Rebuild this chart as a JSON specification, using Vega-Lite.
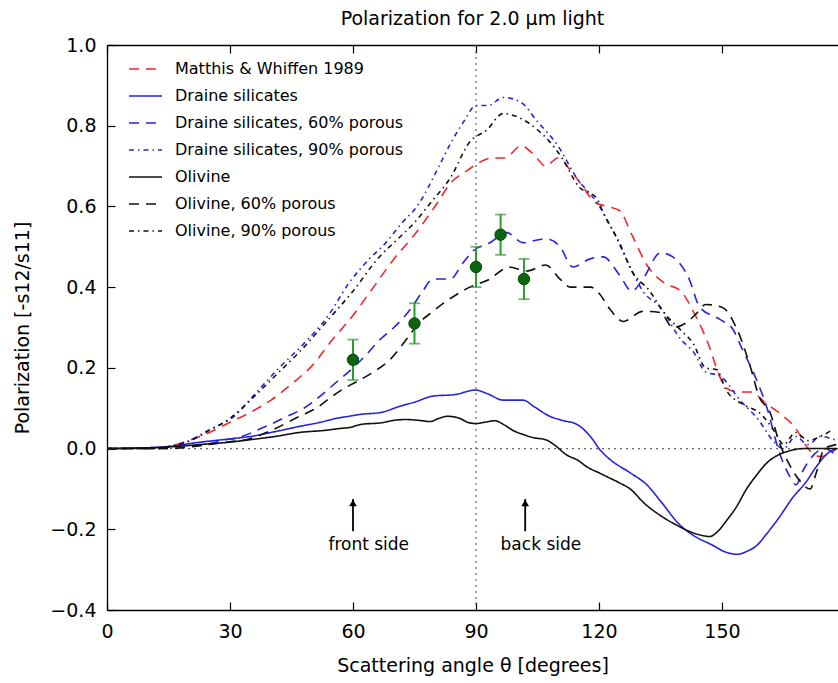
{
  "$schema": "https://vega.github.io/schema/vega-lite/v6.json",
  "width": 731,
  "height": 565,
  "autosize": {"type": "none"},
  "padding": {"left": 107, "top": 45, "right": 0, "bottom": 73},
  "background": "white",
  "config": {
    "view": {"stroke": null},
    "font": "DejaVu Sans",
    "axis": {"grid": false, "labelFont": "DejaVu Sans", "titleFont": "DejaVu Sans", "labelColor": "black", "titleColor": "black", "titleFontWeight": "normal", "domainColor": "black", "tickColor": "black", "domainWidth": 1.3, "tickWidth": 1.2, "labelFlush": false}
  },
  "title": {"text": "Polarization for 2.0 μm light", "font": "DejaVu Sans", "fontSize": 19, "fontWeight": "normal", "color": "black", "anchor": "middle", "offset": 7},
  "datasets": {
    "curves": [
      {"series": "Matthis & Whiffen 1989", "angle": 0, "pol": 0},
      {"series": "Matthis & Whiffen 1989", "angle": 10, "pol": 0},
      {"series": "Matthis & Whiffen 1989", "angle": 15, "pol": 0.005},
      {"series": "Matthis & Whiffen 1989", "angle": 20, "pol": 0.02},
      {"series": "Matthis & Whiffen 1989", "angle": 25, "pol": 0.04},
      {"series": "Matthis & Whiffen 1989", "angle": 30, "pol": 0.065},
      {"series": "Matthis & Whiffen 1989", "angle": 35, "pol": 0.09},
      {"series": "Matthis & Whiffen 1989", "angle": 40, "pol": 0.12},
      {"series": "Matthis & Whiffen 1989", "angle": 45, "pol": 0.16},
      {"series": "Matthis & Whiffen 1989", "angle": 50, "pol": 0.205},
      {"series": "Matthis & Whiffen 1989", "angle": 55, "pol": 0.27},
      {"series": "Matthis & Whiffen 1989", "angle": 60, "pol": 0.33},
      {"series": "Matthis & Whiffen 1989", "angle": 65, "pol": 0.4},
      {"series": "Matthis & Whiffen 1989", "angle": 70, "pol": 0.47},
      {"series": "Matthis & Whiffen 1989", "angle": 75, "pol": 0.53},
      {"series": "Matthis & Whiffen 1989", "angle": 80, "pol": 0.6},
      {"series": "Matthis & Whiffen 1989", "angle": 84, "pol": 0.66},
      {"series": "Matthis & Whiffen 1989", "angle": 88, "pol": 0.69},
      {"series": "Matthis & Whiffen 1989", "angle": 91, "pol": 0.71},
      {"series": "Matthis & Whiffen 1989", "angle": 94, "pol": 0.72},
      {"series": "Matthis & Whiffen 1989", "angle": 97, "pol": 0.72},
      {"series": "Matthis & Whiffen 1989", "angle": 101, "pol": 0.75},
      {"series": "Matthis & Whiffen 1989", "angle": 104, "pol": 0.73},
      {"series": "Matthis & Whiffen 1989", "angle": 107, "pol": 0.7},
      {"series": "Matthis & Whiffen 1989", "angle": 110, "pol": 0.72},
      {"series": "Matthis & Whiffen 1989", "angle": 113, "pol": 0.69},
      {"series": "Matthis & Whiffen 1989", "angle": 116, "pol": 0.65},
      {"series": "Matthis & Whiffen 1989", "angle": 119, "pol": 0.61},
      {"series": "Matthis & Whiffen 1989", "angle": 122, "pol": 0.6},
      {"series": "Matthis & Whiffen 1989", "angle": 125, "pol": 0.59},
      {"series": "Matthis & Whiffen 1989", "angle": 128, "pol": 0.53},
      {"series": "Matthis & Whiffen 1989", "angle": 132, "pol": 0.45},
      {"series": "Matthis & Whiffen 1989", "angle": 136, "pol": 0.41},
      {"series": "Matthis & Whiffen 1989", "angle": 140, "pol": 0.39},
      {"series": "Matthis & Whiffen 1989", "angle": 143, "pol": 0.34},
      {"series": "Matthis & Whiffen 1989", "angle": 147, "pol": 0.25},
      {"series": "Matthis & Whiffen 1989", "angle": 149, "pol": 0.19},
      {"series": "Matthis & Whiffen 1989", "angle": 151, "pol": 0.15},
      {"series": "Matthis & Whiffen 1989", "angle": 154, "pol": 0.14},
      {"series": "Matthis & Whiffen 1989", "angle": 157, "pol": 0.14},
      {"series": "Matthis & Whiffen 1989", "angle": 161, "pol": 0.11},
      {"series": "Matthis & Whiffen 1989", "angle": 165, "pol": 0.08},
      {"series": "Matthis & Whiffen 1989", "angle": 168, "pol": 0.05},
      {"series": "Matthis & Whiffen 1989", "angle": 171, "pol": 0.0},
      {"series": "Matthis & Whiffen 1989", "angle": 174, "pol": -0.02},
      {"series": "Matthis & Whiffen 1989", "angle": 178, "pol": 0.0},

      {"series": "Draine silicates", "angle": 0, "pol": 0},
      {"series": "Draine silicates", "angle": 10, "pol": 0.002},
      {"series": "Draine silicates", "angle": 15, "pol": 0.005},
      {"series": "Draine silicates", "angle": 22, "pol": 0.015},
      {"series": "Draine silicates", "angle": 30, "pol": 0.024},
      {"series": "Draine silicates", "angle": 35, "pol": 0.03},
      {"series": "Draine silicates", "angle": 41, "pol": 0.042},
      {"series": "Draine silicates", "angle": 47, "pol": 0.055},
      {"series": "Draine silicates", "angle": 52, "pol": 0.065},
      {"series": "Draine silicates", "angle": 56, "pol": 0.075},
      {"series": "Draine silicates", "angle": 59, "pol": 0.08},
      {"series": "Draine silicates", "angle": 62, "pol": 0.085},
      {"series": "Draine silicates", "angle": 66.6, "pol": 0.089},
      {"series": "Draine silicates", "angle": 71.5, "pol": 0.105},
      {"series": "Draine silicates", "angle": 75, "pol": 0.115},
      {"series": "Draine silicates", "angle": 79.5, "pol": 0.13},
      {"series": "Draine silicates", "angle": 85, "pol": 0.134},
      {"series": "Draine silicates", "angle": 89.8, "pol": 0.145},
      {"series": "Draine silicates", "angle": 93, "pol": 0.135},
      {"series": "Draine silicates", "angle": 96.6, "pol": 0.12},
      {"series": "Draine silicates", "angle": 99, "pol": 0.12},
      {"series": "Draine silicates", "angle": 101.5, "pol": 0.12},
      {"series": "Draine silicates", "angle": 104, "pol": 0.105},
      {"series": "Draine silicates", "angle": 108, "pol": 0.08},
      {"series": "Draine silicates", "angle": 111, "pol": 0.07},
      {"series": "Draine silicates", "angle": 114.6, "pol": 0.06},
      {"series": "Draine silicates", "angle": 118.5, "pol": 0.022},
      {"series": "Draine silicates", "angle": 120, "pol": 0.0},
      {"series": "Draine silicates", "angle": 122.7, "pol": -0.027},
      {"series": "Draine silicates", "angle": 127.6, "pol": -0.06},
      {"series": "Draine silicates", "angle": 131.7, "pol": -0.09},
      {"series": "Draine silicates", "angle": 135, "pol": -0.13},
      {"series": "Draine silicates", "angle": 139.8, "pol": -0.19},
      {"series": "Draine silicates", "angle": 143, "pol": -0.215},
      {"series": "Draine silicates", "angle": 147.8, "pol": -0.24},
      {"series": "Draine silicates", "angle": 150.5, "pol": -0.255},
      {"series": "Draine silicates", "angle": 153.7, "pol": -0.262},
      {"series": "Draine silicates", "angle": 156, "pol": -0.255},
      {"series": "Draine silicates", "angle": 158.5, "pol": -0.24},
      {"series": "Draine silicates", "angle": 161, "pol": -0.21},
      {"series": "Draine silicates", "angle": 164, "pol": -0.17},
      {"series": "Draine silicates", "angle": 167, "pol": -0.125},
      {"series": "Draine silicates", "angle": 170.7, "pol": -0.08},
      {"series": "Draine silicates", "angle": 173, "pol": -0.045},
      {"series": "Draine silicates", "angle": 176, "pol": -0.01},
      {"series": "Draine silicates", "angle": 178, "pol": 0.0},

      {"series": "Draine silicates, 60% porous", "angle": 0, "pol": 0},
      {"series": "Draine silicates, 60% porous", "angle": 15, "pol": 0.0},
      {"series": "Draine silicates, 60% porous", "angle": 20, "pol": 0.005},
      {"series": "Draine silicates, 60% porous", "angle": 25, "pol": 0.012},
      {"series": "Draine silicates, 60% porous", "angle": 28, "pol": 0.02},
      {"series": "Draine silicates, 60% porous", "angle": 32, "pol": 0.027},
      {"series": "Draine silicates, 60% porous", "angle": 37, "pol": 0.047},
      {"series": "Draine silicates, 60% porous", "angle": 44, "pol": 0.08},
      {"series": "Draine silicates, 60% porous", "angle": 48, "pol": 0.1},
      {"series": "Draine silicates, 60% porous", "angle": 52, "pol": 0.13},
      {"series": "Draine silicates, 60% porous", "angle": 56, "pol": 0.165},
      {"series": "Draine silicates, 60% porous", "angle": 60, "pol": 0.2},
      {"series": "Draine silicates, 60% porous", "angle": 63, "pol": 0.23},
      {"series": "Draine silicates, 60% porous", "angle": 66.6, "pol": 0.27},
      {"series": "Draine silicates, 60% porous", "angle": 70, "pol": 0.3},
      {"series": "Draine silicates, 60% porous", "angle": 74, "pol": 0.345},
      {"series": "Draine silicates, 60% porous", "angle": 77, "pol": 0.39},
      {"series": "Draine silicates, 60% porous", "angle": 79.5, "pol": 0.42},
      {"series": "Draine silicates, 60% porous", "angle": 83.7, "pol": 0.42},
      {"series": "Draine silicates, 60% porous", "angle": 86.8, "pol": 0.46},
      {"series": "Draine silicates, 60% porous", "angle": 89.3, "pol": 0.49},
      {"series": "Draine silicates, 60% porous", "angle": 93.4, "pol": 0.51},
      {"series": "Draine silicates, 60% porous", "angle": 97.5, "pol": 0.535},
      {"series": "Draine silicates, 60% porous", "angle": 101.5, "pol": 0.51},
      {"series": "Draine silicates, 60% porous", "angle": 104, "pol": 0.515},
      {"series": "Draine silicates, 60% porous", "angle": 107, "pol": 0.52},
      {"series": "Draine silicates, 60% porous", "angle": 110.5, "pol": 0.5},
      {"series": "Draine silicates, 60% porous", "angle": 113.6, "pol": 0.45},
      {"series": "Draine silicates, 60% porous", "angle": 117.8, "pol": 0.47},
      {"series": "Draine silicates, 60% porous", "angle": 121, "pol": 0.475},
      {"series": "Draine silicates, 60% porous", "angle": 125, "pol": 0.43},
      {"series": "Draine silicates, 60% porous", "angle": 128, "pol": 0.39},
      {"series": "Draine silicates, 60% porous", "angle": 130.7, "pol": 0.42},
      {"series": "Draine silicates, 60% porous", "angle": 135, "pol": 0.485},
      {"series": "Draine silicates, 60% porous", "angle": 138, "pol": 0.475},
      {"series": "Draine silicates, 60% porous", "angle": 142, "pol": 0.42},
      {"series": "Draine silicates, 60% porous", "angle": 144.6, "pol": 0.35},
      {"series": "Draine silicates, 60% porous", "angle": 149.5, "pol": 0.32},
      {"series": "Draine silicates, 60% porous", "angle": 152.7, "pol": 0.295},
      {"series": "Draine silicates, 60% porous", "angle": 155, "pol": 0.245},
      {"series": "Draine silicates, 60% porous", "angle": 157.6, "pol": 0.19},
      {"series": "Draine silicates, 60% porous", "angle": 161, "pol": 0.1},
      {"series": "Draine silicates, 60% porous", "angle": 164, "pol": -0.01},
      {"series": "Draine silicates, 60% porous", "angle": 166.6, "pol": -0.07},
      {"series": "Draine silicates, 60% porous", "angle": 168, "pol": -0.09},
      {"series": "Draine silicates, 60% porous", "angle": 170, "pol": -0.05},
      {"series": "Draine silicates, 60% porous", "angle": 172, "pol": -0.02},
      {"series": "Draine silicates, 60% porous", "angle": 175, "pol": 0.0},
      {"series": "Draine silicates, 60% porous", "angle": 178, "pol": -0.02},

      {"series": "Draine silicates, 90% porous", "angle": 0, "pol": 0},
      {"series": "Draine silicates, 90% porous", "angle": 10, "pol": 0.0},
      {"series": "Draine silicates, 90% porous", "angle": 15, "pol": 0.005},
      {"series": "Draine silicates, 90% porous", "angle": 19.5, "pol": 0.017},
      {"series": "Draine silicates, 90% porous", "angle": 25, "pol": 0.047},
      {"series": "Draine silicates, 90% porous", "angle": 31, "pol": 0.08},
      {"series": "Draine silicates, 90% porous", "angle": 36.5, "pol": 0.14},
      {"series": "Draine silicates, 90% porous", "angle": 42, "pol": 0.2},
      {"series": "Draine silicates, 90% porous", "angle": 48, "pol": 0.26},
      {"series": "Draine silicates, 90% porous", "angle": 54, "pol": 0.33},
      {"series": "Draine silicates, 90% porous", "angle": 59, "pol": 0.41},
      {"series": "Draine silicates, 90% porous", "angle": 64, "pol": 0.47},
      {"series": "Draine silicates, 90% porous", "angle": 68, "pol": 0.51},
      {"series": "Draine silicates, 90% porous", "angle": 72, "pol": 0.56},
      {"series": "Draine silicates, 90% porous", "angle": 75.6, "pol": 0.6},
      {"series": "Draine silicates, 90% porous", "angle": 81, "pol": 0.7},
      {"series": "Draine silicates, 90% porous", "angle": 84, "pol": 0.76},
      {"series": "Draine silicates, 90% porous", "angle": 87, "pol": 0.81},
      {"series": "Draine silicates, 90% porous", "angle": 90, "pol": 0.85},
      {"series": "Draine silicates, 90% porous", "angle": 93, "pol": 0.85},
      {"series": "Draine silicates, 90% porous", "angle": 96.6, "pol": 0.87},
      {"series": "Draine silicates, 90% porous", "angle": 100.7, "pol": 0.86},
      {"series": "Draine silicates, 90% porous", "angle": 105, "pol": 0.81},
      {"series": "Draine silicates, 90% porous", "angle": 110, "pol": 0.75},
      {"series": "Draine silicates, 90% porous", "angle": 114.6, "pol": 0.67},
      {"series": "Draine silicates, 90% porous", "angle": 119.5, "pol": 0.61},
      {"series": "Draine silicates, 90% porous", "angle": 123.4, "pol": 0.54},
      {"series": "Draine silicates, 90% porous", "angle": 127.6, "pol": 0.45},
      {"series": "Draine silicates, 90% porous", "angle": 130.7, "pol": 0.39},
      {"series": "Draine silicates, 90% porous", "angle": 135, "pol": 0.35},
      {"series": "Draine silicates, 90% porous", "angle": 140, "pol": 0.27},
      {"series": "Draine silicates, 90% porous", "angle": 143, "pol": 0.24},
      {"series": "Draine silicates, 90% porous", "angle": 146, "pol": 0.19},
      {"series": "Draine silicates, 90% porous", "angle": 149.5, "pol": 0.18},
      {"series": "Draine silicates, 90% porous", "angle": 154.4, "pol": 0.12},
      {"series": "Draine silicates, 90% porous", "angle": 159, "pol": 0.07},
      {"series": "Draine silicates, 90% porous", "angle": 162.4, "pol": 0.02},
      {"series": "Draine silicates, 90% porous", "angle": 165, "pol": 0.0},
      {"series": "Draine silicates, 90% porous", "angle": 168, "pol": 0.03},
      {"series": "Draine silicates, 90% porous", "angle": 171, "pol": 0.01},
      {"series": "Draine silicates, 90% porous", "angle": 174, "pol": 0.03},
      {"series": "Draine silicates, 90% porous", "angle": 178, "pol": 0.02},

      {"series": "Olivine", "angle": 0, "pol": 0},
      {"series": "Olivine", "angle": 10, "pol": 0.002},
      {"series": "Olivine", "angle": 15, "pol": 0.004},
      {"series": "Olivine", "angle": 22.7, "pol": 0.01},
      {"series": "Olivine", "angle": 30, "pol": 0.016},
      {"series": "Olivine", "angle": 35, "pol": 0.022},
      {"series": "Olivine", "angle": 41, "pol": 0.03},
      {"series": "Olivine", "angle": 47, "pol": 0.04},
      {"series": "Olivine", "angle": 53, "pol": 0.045},
      {"series": "Olivine", "angle": 57, "pol": 0.05},
      {"series": "Olivine", "angle": 59, "pol": 0.052},
      {"series": "Olivine", "angle": 62, "pol": 0.06},
      {"series": "Olivine", "angle": 67, "pol": 0.064},
      {"series": "Olivine", "angle": 70, "pol": 0.07},
      {"series": "Olivine", "angle": 72.7, "pol": 0.072},
      {"series": "Olivine", "angle": 76, "pol": 0.07},
      {"series": "Olivine", "angle": 78.8, "pol": 0.067},
      {"series": "Olivine", "angle": 81, "pol": 0.075},
      {"series": "Olivine", "angle": 83, "pol": 0.08},
      {"series": "Olivine", "angle": 86, "pol": 0.075},
      {"series": "Olivine", "angle": 88, "pol": 0.065},
      {"series": "Olivine", "angle": 90, "pol": 0.062},
      {"series": "Olivine", "angle": 92, "pol": 0.065},
      {"series": "Olivine", "angle": 94.6, "pol": 0.069},
      {"series": "Olivine", "angle": 97, "pol": 0.058},
      {"series": "Olivine", "angle": 99, "pol": 0.045},
      {"series": "Olivine", "angle": 101.5, "pol": 0.035},
      {"series": "Olivine", "angle": 104, "pol": 0.027},
      {"series": "Olivine", "angle": 107, "pol": 0.022},
      {"series": "Olivine", "angle": 109, "pol": 0.01},
      {"series": "Olivine", "angle": 112, "pol": -0.015},
      {"series": "Olivine", "angle": 115, "pol": -0.03},
      {"series": "Olivine", "angle": 117, "pol": -0.045},
      {"series": "Olivine", "angle": 120, "pol": -0.06},
      {"series": "Olivine", "angle": 122, "pol": -0.07},
      {"series": "Olivine", "angle": 125, "pol": -0.085},
      {"series": "Olivine", "angle": 127.6, "pol": -0.1},
      {"series": "Olivine", "angle": 131, "pol": -0.135},
      {"series": "Olivine", "angle": 135.6, "pol": -0.17},
      {"series": "Olivine", "angle": 139, "pol": -0.19},
      {"series": "Olivine", "angle": 142, "pol": -0.205},
      {"series": "Olivine", "angle": 145, "pol": -0.215},
      {"series": "Olivine", "angle": 147, "pol": -0.218},
      {"series": "Olivine", "angle": 149, "pol": -0.205},
      {"series": "Olivine", "angle": 151, "pol": -0.18},
      {"series": "Olivine", "angle": 153.5, "pol": -0.145},
      {"series": "Olivine", "angle": 156, "pol": -0.1},
      {"series": "Olivine", "angle": 158.5, "pol": -0.065},
      {"series": "Olivine", "angle": 161, "pol": -0.035},
      {"series": "Olivine", "angle": 163.5, "pol": -0.017},
      {"series": "Olivine", "angle": 166, "pol": -0.007},
      {"series": "Olivine", "angle": 170, "pol": 0.0},
      {"series": "Olivine", "angle": 178, "pol": 0.0},

      {"series": "Olivine, 60% porous", "angle": 0, "pol": 0},
      {"series": "Olivine, 60% porous", "angle": 15, "pol": 0.0},
      {"series": "Olivine, 60% porous", "angle": 20, "pol": 0.004},
      {"series": "Olivine, 60% porous", "angle": 25, "pol": 0.01},
      {"series": "Olivine, 60% porous", "angle": 30, "pol": 0.017},
      {"series": "Olivine, 60% porous", "angle": 34, "pol": 0.022},
      {"series": "Olivine, 60% porous", "angle": 40.5, "pol": 0.047},
      {"series": "Olivine, 60% porous", "angle": 47, "pol": 0.08},
      {"series": "Olivine, 60% porous", "angle": 51, "pol": 0.1},
      {"series": "Olivine, 60% porous", "angle": 55, "pol": 0.13},
      {"series": "Olivine, 60% porous", "angle": 58, "pol": 0.15},
      {"series": "Olivine, 60% porous", "angle": 61.7, "pol": 0.17},
      {"series": "Olivine, 60% porous", "angle": 65, "pol": 0.19},
      {"series": "Olivine, 60% porous", "angle": 69, "pol": 0.22},
      {"series": "Olivine, 60% porous", "angle": 73, "pol": 0.27},
      {"series": "Olivine, 60% porous", "angle": 76, "pol": 0.31},
      {"series": "Olivine, 60% porous", "angle": 79.5, "pol": 0.34},
      {"series": "Olivine, 60% porous", "angle": 82, "pol": 0.36},
      {"series": "Olivine, 60% porous", "angle": 85, "pol": 0.38},
      {"series": "Olivine, 60% porous", "angle": 88.5, "pol": 0.4},
      {"series": "Olivine, 60% porous", "angle": 91, "pol": 0.41},
      {"series": "Olivine, 60% porous", "angle": 93.4, "pol": 0.42},
      {"series": "Olivine, 60% porous", "angle": 96, "pol": 0.44},
      {"series": "Olivine, 60% porous", "angle": 98, "pol": 0.45},
      {"series": "Olivine, 60% porous", "angle": 102.4, "pol": 0.44},
      {"series": "Olivine, 60% porous", "angle": 107, "pol": 0.455},
      {"series": "Olivine, 60% porous", "angle": 110.5, "pol": 0.42},
      {"series": "Olivine, 60% porous", "angle": 113, "pol": 0.4},
      {"series": "Olivine, 60% porous", "angle": 115.4, "pol": 0.4},
      {"series": "Olivine, 60% porous", "angle": 118, "pol": 0.4},
      {"series": "Olivine, 60% porous", "angle": 120, "pol": 0.385},
      {"series": "Olivine, 60% porous", "angle": 122.7, "pol": 0.345},
      {"series": "Olivine, 60% porous", "angle": 125.9, "pol": 0.315},
      {"series": "Olivine, 60% porous", "angle": 130.7, "pol": 0.34},
      {"series": "Olivine, 60% porous", "angle": 135, "pol": 0.337},
      {"series": "Olivine, 60% porous", "angle": 138, "pol": 0.3},
      {"series": "Olivine, 60% porous", "angle": 141, "pol": 0.31},
      {"series": "Olivine, 60% porous", "angle": 144, "pol": 0.337},
      {"series": "Olivine, 60% porous", "angle": 146, "pol": 0.357},
      {"series": "Olivine, 60% porous", "angle": 150, "pol": 0.35},
      {"series": "Olivine, 60% porous", "angle": 153.7, "pol": 0.295},
      {"series": "Olivine, 60% porous", "angle": 157, "pol": 0.2},
      {"series": "Olivine, 60% porous", "angle": 159, "pol": 0.13},
      {"series": "Olivine, 60% porous", "angle": 161.7, "pol": 0.09},
      {"series": "Olivine, 60% porous", "angle": 164, "pol": 0.015},
      {"series": "Olivine, 60% porous", "angle": 167, "pol": -0.05},
      {"series": "Olivine, 60% porous", "angle": 169, "pol": -0.08},
      {"series": "Olivine, 60% porous", "angle": 171.5, "pol": -0.1},
      {"series": "Olivine, 60% porous", "angle": 173, "pol": -0.06},
      {"series": "Olivine, 60% porous", "angle": 175, "pol": 0.0},
      {"series": "Olivine, 60% porous", "angle": 178, "pol": 0.01},

      {"series": "Olivine, 90% porous", "angle": 0, "pol": 0},
      {"series": "Olivine, 90% porous", "angle": 10, "pol": 0.0},
      {"series": "Olivine, 90% porous", "angle": 15, "pol": 0.005},
      {"series": "Olivine, 90% porous", "angle": 20, "pol": 0.018},
      {"series": "Olivine, 90% porous", "angle": 25, "pol": 0.045},
      {"series": "Olivine, 90% porous", "angle": 30, "pol": 0.075},
      {"series": "Olivine, 90% porous", "angle": 36, "pol": 0.13},
      {"series": "Olivine, 90% porous", "angle": 42, "pol": 0.19},
      {"series": "Olivine, 90% porous", "angle": 47, "pol": 0.24},
      {"series": "Olivine, 90% porous", "angle": 54, "pol": 0.32},
      {"series": "Olivine, 90% porous", "angle": 60, "pol": 0.39},
      {"series": "Olivine, 90% porous", "angle": 66, "pol": 0.47},
      {"series": "Olivine, 90% porous", "angle": 71, "pol": 0.52},
      {"series": "Olivine, 90% porous", "angle": 75, "pol": 0.56},
      {"series": "Olivine, 90% porous", "angle": 79, "pol": 0.61},
      {"series": "Olivine, 90% porous", "angle": 83.7, "pol": 0.67},
      {"series": "Olivine, 90% porous", "angle": 88.5, "pol": 0.76},
      {"series": "Olivine, 90% porous", "angle": 92.7, "pol": 0.79},
      {"series": "Olivine, 90% porous", "angle": 96.6, "pol": 0.83},
      {"series": "Olivine, 90% porous", "angle": 101.5, "pol": 0.815},
      {"series": "Olivine, 90% porous", "angle": 105, "pol": 0.79},
      {"series": "Olivine, 90% porous", "angle": 108, "pol": 0.76},
      {"series": "Olivine, 90% porous", "angle": 111, "pol": 0.72},
      {"series": "Olivine, 90% porous", "angle": 115, "pol": 0.65},
      {"series": "Olivine, 90% porous", "angle": 119.5, "pol": 0.62},
      {"series": "Olivine, 90% porous", "angle": 121, "pol": 0.585},
      {"series": "Olivine, 90% porous", "angle": 125, "pol": 0.51},
      {"series": "Olivine, 90% porous", "angle": 128, "pol": 0.44},
      {"series": "Olivine, 90% porous", "angle": 132.4, "pol": 0.39},
      {"series": "Olivine, 90% porous", "angle": 135.6, "pol": 0.34},
      {"series": "Olivine, 90% porous", "angle": 139.8, "pol": 0.295},
      {"series": "Olivine, 90% porous", "angle": 143, "pol": 0.26},
      {"series": "Olivine, 90% porous", "angle": 146, "pol": 0.2},
      {"series": "Olivine, 90% porous", "angle": 148.8, "pol": 0.195},
      {"series": "Olivine, 90% porous", "angle": 151, "pol": 0.145},
      {"series": "Olivine, 90% porous", "angle": 156, "pol": 0.105},
      {"series": "Olivine, 90% porous", "angle": 159, "pol": 0.09},
      {"series": "Olivine, 90% porous", "angle": 163, "pol": 0.04},
      {"series": "Olivine, 90% porous", "angle": 165, "pol": 0.01},
      {"series": "Olivine, 90% porous", "angle": 168, "pol": 0.04},
      {"series": "Olivine, 90% porous", "angle": 171, "pol": 0.02},
      {"series": "Olivine, 90% porous", "angle": 174, "pol": 0.03},
      {"series": "Olivine, 90% porous", "angle": 177, "pol": 0.047}
    ],
    "obs": [
      {"angle": 60, "pol": 0.22, "lo": 0.17, "hi": 0.27},
      {"angle": 75, "pol": 0.31, "lo": 0.26, "hi": 0.36},
      {"angle": 90, "pol": 0.45, "lo": 0.4, "hi": 0.5},
      {"angle": 96, "pol": 0.53, "lo": 0.48, "hi": 0.58},
      {"angle": 101.7, "pol": 0.42, "lo": 0.37, "hi": 0.47}
    ],
    "arrows": [
      {"angle": 60, "from": -0.205, "to": -0.125, "label": "front side", "labelAngle": 54, "labelPol": -0.238},
      {"angle": 102, "from": -0.205, "to": -0.125, "label": "back side", "labelAngle": 96, "labelPol": -0.238}
    ],
    "hline": [{"pol": 0}],
    "vline": [{"angle": 90}]
  },
  "resolve": {"axis": {"x": "independent", "y": "independent"}},
  "layer": [
    {
      "data": {"name": "hline"},
      "mark": {"type": "rule", "color": "#666666", "strokeDash": [2, 4], "strokeWidth": 1.2},
      "encoding": {"y": {"field": "pol", "type": "quantitative", "axis": null}}
    },
    {
      "data": {"name": "vline"},
      "mark": {"type": "rule", "color": "#666666", "strokeDash": [2, 4], "strokeWidth": 1.2},
      "encoding": {
        "x": {"field": "angle", "type": "quantitative", "axis": {"orient": "top", "labels": false, "title": null, "values": [0, 30, 60, 90, 120, 150], "tickSize": -8, "domain": true}}
      }
    },
    {
      "data": {"name": "curves"},
      "mark": {"type": "line", "strokeWidth": 1.6, "interpolate": "monotone", "clip": true},
      "encoding": {
        "x": {"field": "angle", "type": "quantitative", "scale": {"domain": [0, 178.3], "nice": false, "zero": false},
          "axis": {"orient": "bottom", "values": [0, 30, 60, 90, 120, 150], "tickSize": -8, "labelPadding": 20, "labelFontSize": 19, "title": "Scattering angle θ [degrees]", "titleFontSize": 19, "titlePadding": 15}},
        "y": {"field": "pol", "type": "quantitative", "scale": {"domain": [-0.4, 1.0], "nice": false, "zero": false},
          "axis": {"orient": "left", "values": [-0.4, -0.2, 0, 0.2, 0.4, 0.6, 0.8, 1.0], "format": ".1f", "tickSize": -8, "labelPadding": 19, "labelFontSize": 19, "title": "Polarization [-s12/s11]", "titleFontSize": 19, "titlePadding": 17}},
        "color": {"field": "series", "type": "nominal",
          "scale": {"domain": ["Matthis & Whiffen 1989", "Draine silicates", "Draine silicates, 60% porous", "Draine silicates, 90% porous", "Olivine", "Olivine, 60% porous", "Olivine, 90% porous"],
                    "range": ["#ee2a2a", "#2424dd", "#2424dd", "#2424dd", "#111111", "#111111", "#111111"]},
          "legend": {"title": null, "orient": "none", "legendX": 30.5, "legendY": 16, "symbolType": "M-3,0H3", "symbolSize": 121, "symbolStrokeWidth": 1.6, "labelFontSize": 16, "labelFont": "DejaVu Sans", "labelColor": "black", "labelOffset": 21.5, "labelLimit": 400, "rowPadding": 11, "padding": 0}},
        "strokeDash": {"field": "series", "type": "nominal",
          "scale": {"domain": ["Matthis & Whiffen 1989", "Draine silicates", "Draine silicates, 60% porous", "Draine silicates, 90% porous", "Olivine", "Olivine, 60% porous", "Olivine, 90% porous"],
                    "range": [[10, 7], [1, 0], [10, 7], [5, 4, 1.5, 4], [1, 0], [10, 7], [5, 4, 1.5, 4]]},
          "legend": {"title": null, "orient": "none", "legendX": 30.5, "legendY": 16, "symbolType": "M-3,0H3", "symbolSize": 121, "symbolStrokeWidth": 1.6, "labelFontSize": 16, "labelFont": "DejaVu Sans", "labelColor": "black", "labelOffset": 21.5, "labelLimit": 400, "rowPadding": 11, "padding": 0}}
      }
    },
    {
      "data": {"name": "obs"},
      "mark": {"type": "errorbar", "ticks": {"size": 11, "thickness": 1.8}, "color": "#2f9a2f", "thickness": 2},
      "encoding": {
        "x": {"field": "angle", "type": "quantitative", "axis": null},
        "y": {"field": "lo", "type": "quantitative", "axis": null},
        "y2": {"field": "hi"}
      }
    },
    {
      "data": {"name": "obs"},
      "mark": {"type": "point", "filled": true, "shape": "circle", "size": 130, "color": "#0c650c", "opacity": 1, "stroke": "#064806", "strokeWidth": 1},
      "encoding": {
        "x": {"field": "angle", "type": "quantitative", "axis": null},
        "y": {"field": "pol", "type": "quantitative", "axis": null}
      }
    },
    {
      "data": {"name": "arrows"},
      "mark": {"type": "rule", "color": "black", "strokeWidth": 1.8},
      "encoding": {
        "x": {"field": "angle", "type": "quantitative", "axis": null},
        "y": {"field": "from", "type": "quantitative", "axis": null},
        "y2": {"field": "to"}
      }
    },
    {
      "data": {"name": "arrows"},
      "mark": {"type": "point", "shape": "triangle-up", "filled": true, "size": 60, "color": "black", "opacity": 1, "yOffset": 4},
      "encoding": {
        "x": {"field": "angle", "type": "quantitative", "axis": null},
        "y": {"field": "to", "type": "quantitative", "axis": null}
      }
    },
    {
      "data": {"name": "arrows"},
      "mark": {"type": "text", "align": "left", "baseline": "middle", "fontSize": 17, "font": "DejaVu Sans", "color": "black"},
      "encoding": {
        "x": {"field": "labelAngle", "type": "quantitative", "axis": null},
        "y": {"field": "labelPol", "type": "quantitative", "axis": null},
        "text": {"field": "label"}
      }
    }
  ]
}
